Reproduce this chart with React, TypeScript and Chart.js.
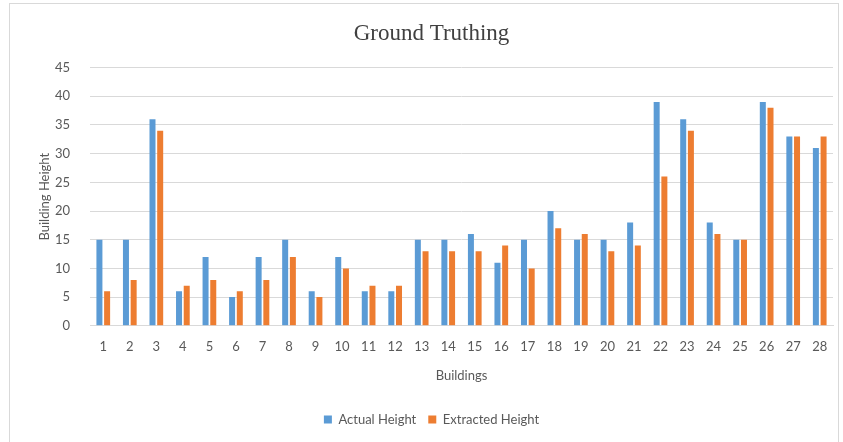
import React, { useEffect, useRef } from "react";
import { Chart, registerables } from "chart.js";

Chart.register(...registerables);

const categories = ["1","2","3","4","5","6","7","8","9","10","11","12","13","14","15","16","17","18","19","20","21","22","23","24","25","26","27","28"];
const actualHeight = [15,15,36,6,12,5,12,15,6,12,6,6,15,15,16,11,15,20,15,15,18,39,36,18,15,39,33,31];
const extractedHeight = [6,8,34,7,8,6,8,12,5,10,7,7,13,13,13,14,10,17,16,13,14,26,34,16,15,38,33,33];
const yTicks = [0,5,10,15,20,25,30,35,40,45];

export default function App() {
  const ref = useRef<HTMLCanvasElement | null>(null);
  useEffect(() => {
    if (!ref.current) return;
    const tickFont = { family: "Lato, 'Open Sans', sans-serif", size: 13 };
    const chart = new Chart(ref.current, {
      type: "bar",
      data: {
        labels: categories,
        datasets: [
          { label: "Actual Height", data: actualHeight, backgroundColor: "#5B9BD5", categoryPercentage: 0.58, barPercentage: 0.78 },
          { label: "Extracted Height", data: extractedHeight, backgroundColor: "#ED7D31", categoryPercentage: 0.58, barPercentage: 0.78 },
        ],
      },
      options: {
        animation: false,
        responsive: false,
        layout: { padding: { left: 30, right: 10, top: 0, bottom: 6 } },
        plugins: {
          title: {
            display: true,
            text: "Ground Truthing",
            color: "#404040",
            font: { family: "'Liberation Serif', 'DejaVu Serif', serif", size: 23, weight: "normal" },
            padding: { top: 20, bottom: 20 },
          },
          legend: {
            position: "bottom",
            labels: {
              boxWidth: 8,
              boxHeight: 8,
              color: "#595959",
              font: { family: "Lato, 'Open Sans', sans-serif", size: 13 },
              padding: 12,
            },
          },
          tooltip: { enabled: false },
        },
        scales: {
          x: {
            grid: { display: false, drawTicks: false },
            border: { display: true, color: "#D9D9D9" },
            ticks: { color: "#595959", font: tickFont, padding: 13, maxRotation: 0, autoSkip: false },
            title: { display: true, text: "Buildings", color: "#595959", font: tickFont, padding: { top: 1, bottom: 17 } },
          },
          y: {
            min: 0,
            max: 45,
            afterBuildTicks: (s: any) => { s.ticks = yTicks.map((v) => ({ value: v })); },
            afterFit: (s: any) => { s.width = 60; },
            grid: { color: "#D9D9D9", drawTicks: false },
            border: { display: false },
            ticks: { color: "#595959", font: tickFont, padding: 20 },
            title: { display: true, text: "Building Height", color: "#595959", font: tickFont, padding: { top: 7, bottom: 0 } },
          },
        },
      },
    });
    return () => chart.destroy();
  }, []);
  return (
    <div style={{ position: "absolute", left: 0, top: 0, width: 843, height: 442, background: "#fff", overflow: "hidden" }}>
      <div style={{ position: "absolute", left: 9, top: 3, width: 830, height: 460, border: "1px solid #D9D9D9", boxSizing: "border-box" }} />
      <canvas ref={ref} width={843} height={442} style={{ position: "absolute", left: 0, top: 0 }} />
    </div>
  );
}
